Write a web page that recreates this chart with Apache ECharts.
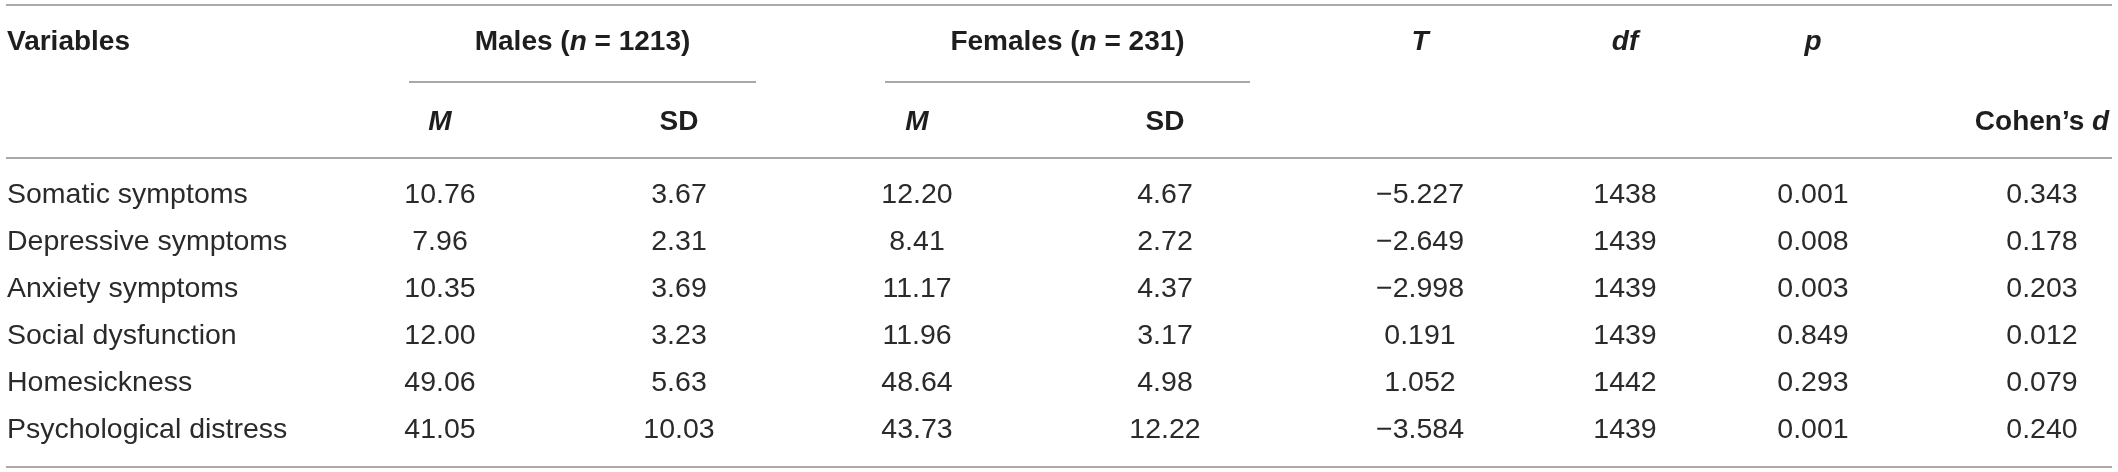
<!DOCTYPE html>
<html>
<head>
<meta charset="utf-8">
<title>Males vs females</title>
<script src="https://cdn.jsdelivr.net/npm/echarts@6/dist/echarts.min.js"></script>
<style>
  html, body { margin: 0; padding: 0; background: #fff; }
  #main { width: 2118px; height: 472px; }
</style>
</head>
<body>
<div id="main"></div>
<script>
// table data
var variables = ['Somatic symptoms', 'Depressive symptoms', 'Anxiety symptoms',
                 'Social dysfunction', 'Homesickness', 'Psychological distress'];
var maleM = [10.76, 7.96, 10.35, 12.00, 49.06, 41.05];
var maleSD = [3.67, 2.31, 3.69, 3.23, 5.63, 10.03];
var femaleM = [12.20, 8.41, 11.17, 11.96, 48.64, 43.73];
var femaleSD = [4.67, 2.72, 4.37, 3.17, 4.98, 12.22];
var tValues = [-5.227, -2.649, -2.998, 0.191, 1.052, -3.584];
var dfValues = [1438, 1439, 1439, 1439, 1442, 1439];
var pValues = [0.001, 0.008, 0.003, 0.849, 0.293, 0.001];
var cohenD = [0.343, 0.178, 0.203, 0.012, 0.079, 0.240];

// layout (pixel units of the hidden axes)
var colX = [7, 440, 679, 917, 1165, 1420, 1625, 1813, 2042];
var headY1 = 42, headY2 = 122, rowY0 = 195, rowStep = 47;
var rules = [[6, 2112, 5], [409, 756, 82], [885, 1250, 82], [6, 2112, 158], [6, 2112, 467]];

var FONT = '"Liberation Sans", Arial, Helvetica, sans-serif';

function fmt(v, d) {
    var s = Math.abs(v).toFixed(d);
    return v < 0 ? '\u2212' + s : s;
}

var columns = [
    { vals: variables, f: function (v) { return v; }, align: 'left' },
    { vals: maleM, f: function (v) { return fmt(v, 2); } },
    { vals: maleSD, f: function (v) { return fmt(v, 2); } },
    { vals: femaleM, f: function (v) { return fmt(v, 2); } },
    { vals: femaleSD, f: function (v) { return fmt(v, 2); } },
    { vals: tValues, f: function (v) { return fmt(v, 3); } },
    { vals: dfValues, f: function (v) { return String(v); } },
    { vals: pValues, f: function (v) { return fmt(v, 3); } },
    { vals: cohenD, f: function (v) { return fmt(v, 3); } }
];

// header cells: rich text so that n, M, T, df, p, d come out italic
var headers = [
    { x: colX[0], y: headY1, text: '{b|Variables}', align: 'left' },
    { x: (409 + 756) / 2, y: headY1, text: '{b|Males (}{i|n}{b| = 1213)}' },
    { x: (885 + 1250) / 2, y: headY1, text: '{b|Females (}{i|n}{b| = 231)}' },
    { x: colX[5], y: headY1, text: '{i|T}' },
    { x: colX[6], y: headY1, text: '{i|df}' },
    { x: colX[7], y: headY1, text: '{i|p}' },
    { x: colX[1], y: headY2, text: '{i|M}' },
    { x: colX[2], y: headY2, text: '{b|SD}' },
    { x: colX[3], y: headY2, text: '{i|M}' },
    { x: colX[4], y: headY2, text: '{b|SD}' },
    { x: colX[8], y: headY2, text: '{b|Cohen\u2019s }{i|d}' }
];

var cells = [];
columns.forEach(function (col, j) {
    col.vals.forEach(function (v, i) {
        cells.push({ x: colX[j], y: rowY0 + i * rowStep, text: col.f(v), align: col.align || 'center' });
    });
});

var headRich = {
    b: { fontFamily: FONT, fontSize: 28, fontWeight: 'bold', fill: '#1e1e1e' },
    i: { fontFamily: FONT, fontSize: 28, fontWeight: 'bold', fontStyle: 'italic', fill: '#1e1e1e' }
};

var myChart = echarts.init(document.getElementById('main'));

var option = {
    animation: false,
    grid: { left: 0, right: 0, top: 0, bottom: 0 },
    xAxis: { type: 'value', min: 0, max: 2118, show: false },
    yAxis: { type: 'value', min: 0, max: 472, inverse: true, show: false },
    series: [
        {
            // rules of the table
            type: 'custom',
            data: rules,
            renderItem: function (params, api) {
                var a = api.coord([api.value(0), api.value(2)]);
                var b = api.coord([api.value(1), api.value(2)]);
                return {
                    type: 'line',
                    shape: { x1: a[0], y1: a[1], x2: b[0], y2: b[1] },
                    style: { stroke: '#8c8c8c', lineWidth: 1.5 }
                };
            }
        },
        {
            // header text
            type: 'custom',
            data: headers.map(function (h) { return [h.x, h.y]; }),
            renderItem: function (params, api) {
                var h = headers[params.dataIndex];
                var pt = api.coord([api.value(0), api.value(1)]);
                return {
                    type: 'text',
                    x: pt[0], y: pt[1],
                    style: {
                        text: h.text, rich: headRich,
                        align: h.align || 'center', verticalAlign: 'middle',
                        fontFamily: FONT, fontSize: 28
                    }
                };
            }
        },
        {
            // body cells
            type: 'custom',
            data: cells.map(function (c) { return [c.x, c.y]; }),
            renderItem: function (params, api) {
                var c = cells[params.dataIndex];
                var pt = api.coord([api.value(0), api.value(1)]);
                return {
                    type: 'text',
                    x: pt[0], y: pt[1],
                    style: {
                        text: c.text, fill: '#2a2a2a',
                        fontFamily: FONT, fontSize: 28.5,
                        align: c.align, verticalAlign: 'middle'
                    }
                };
            }
        }
    ]
};

myChart.setOption(option);
</script>
</body>
</html>
